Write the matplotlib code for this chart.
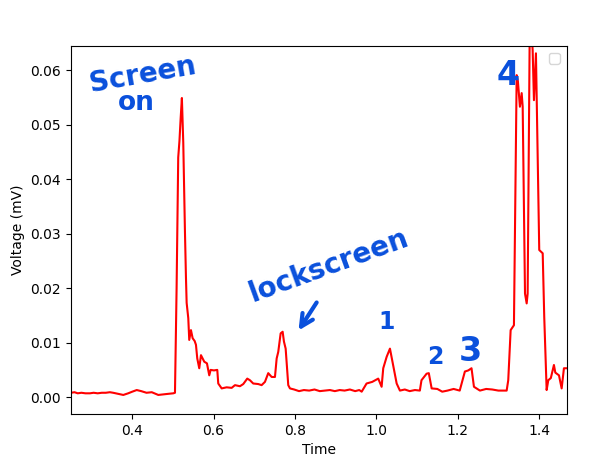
import matplotlib
matplotlib.use("Agg")
import matplotlib.pyplot as plt

# voltage trace (time, mV)
time = [
    0.249, 0.258, 0.266, 0.275, 0.285, 0.296, 0.305, 0.315, 0.325, 0.335,
    0.345, 0.353, 0.365, 0.378, 0.390, 0.400, 0.411, 0.422, 0.435, 0.448,
    0.458, 0.464, 0.475, 0.488, 0.501, 0.505,
    0.509, 0.513, 0.516, 0.519, 0.522, 0.5254, 0.5271, 0.5295, 0.532, 0.5337,
    0.5377, 0.5401, 0.5443, 0.5485, 0.5534, 0.5566, 0.5598, 0.5647, 0.5689, 0.577,
    0.5836, 0.5893, 0.5927, 0.6008, 0.609, 0.6114, 0.6198, 0.632, 0.6444, 0.6525,
    0.6647, 0.6729, 0.6827, 0.6893, 0.6974, 0.7097, 0.718, 0.7262, 0.7343, 0.7427,
    0.7508, 0.755, 0.7589, 0.7648, 0.7697, 0.7729, 0.7771, 0.7835, 0.7877,
    0.798, 0.810, 0.822, 0.835, 0.848, 0.861, 0.874, 0.886, 0.898, 0.910,
    0.922, 0.935, 0.948, 0.958, 0.964, 0.976, 0.990, 1.0047, 1.013, 1.017,
    1.0254, 1.0335, 1.041, 1.050, 1.058, 1.070, 1.082, 1.095, 1.107, 1.111,
    1.1236, 1.129, 1.136, 1.150, 1.162, 1.175, 1.190, 1.205, 1.2177, 1.226,
    1.234, 1.240, 1.2547, 1.270, 1.285, 1.300, 1.3204, 1.3243, 1.3302, 1.3383,
    1.345, 1.348, 1.353, 1.3573, 1.3598, 1.3655, 1.3696, 1.372, 1.3776, 1.3843,
    1.3875, 1.3924, 1.4005, 1.409, 1.4128, 1.4187, 1.4227, 1.429, 1.4366, 1.440,
    1.449, 1.4556, 1.4612, 1.4686,
]
voltage = [
    0.0008, 0.0009, 0.0007, 0.0008, 0.0007, 0.0007, 0.0008, 0.0007, 0.0008, 0.0008,
    0.0009, 0.0008, 0.0006, 0.0004, 0.0007, 0.0010, 0.0013, 0.0011, 0.0008, 0.0009,
    0.0006, 0.0004, 0.0005, 0.0006, 0.0007, 0.0008,
    0.0200, 0.0440, 0.0470, 0.0512, 0.0549, 0.0467, 0.0400, 0.0305, 0.0220, 0.0173,
    0.0145, 0.0105, 0.0123, 0.0108, 0.0103, 0.0096, 0.0071, 0.0053, 0.0077, 0.0065,
    0.0062, 0.0040, 0.0050, 0.0049, 0.0050, 0.0025, 0.0016, 0.0018, 0.0017, 0.0022,
    0.0020, 0.0024, 0.0034, 0.0031, 0.0025, 0.0024, 0.0022, 0.0028, 0.0044, 0.0037,
    0.0037, 0.0071, 0.0083, 0.0117, 0.0120, 0.0102, 0.0089, 0.0022, 0.0016,
    0.0014, 0.0011, 0.0013, 0.0012, 0.0014, 0.0011, 0.0012, 0.0013, 0.0011, 0.0013,
    0.0012, 0.0014, 0.0011, 0.0013, 0.0010, 0.0025, 0.0028, 0.0034, 0.0019, 0.0053,
    0.0074, 0.0089, 0.0060, 0.0025, 0.0012, 0.0014, 0.0011, 0.0013, 0.0012, 0.0031,
    0.0043, 0.0044, 0.0016, 0.0015, 0.0010, 0.0012, 0.0015, 0.0012, 0.0047, 0.0049,
    0.0053, 0.0019, 0.0012, 0.0015, 0.0014, 0.0012, 0.0012, 0.0031, 0.0123, 0.0132,
    0.0591, 0.0580, 0.0533, 0.0558, 0.0533, 0.0190, 0.0172, 0.0190, 0.0720, 0.0637,
    0.0545, 0.0631, 0.0270, 0.0264, 0.0147, 0.0013, 0.0031, 0.0035, 0.0059, 0.0045,
    0.0040, 0.0016, 0.0053, 0.0053,
]

ink = "#0a50dc"

fig = plt.figure(figsize=(6.03, 4.63), dpi=100)
ax = fig.add_axes([0.1172, 0.1058, 0.8226, 0.7955])

ax.plot(time, voltage, color="red")
ax.set_xlim(0.2486, 1.468)
ax.set_ylim(-0.0031, 0.0645)
ax.set_xlabel("Time")
ax.set_ylabel("Voltage (mV)")
ax.legend(loc="upper right")

# hand-drawn notes
ax.text(0.4266, 0.0591, "Screen", color=ink, fontsize=20, fontweight="bold",
        rotation=10, ha="center", va="center")
ax.text(0.409, 0.0540, "on", color=ink, fontsize=19, fontweight="bold",
        ha="center", va="center")
ax.text(0.882, 0.0242, "lockscreen", color=ink, fontsize=20, fontweight="bold",
        rotation=20, ha="center", va="center")
ax.annotate("", xy=(0.805, 0.0118), xytext=(0.857, 0.0178),
            arrowprops=dict(arrowstyle="->", color=ink, lw=3,
                            mutation_scale=22))
ax.text(1.024, 0.0138, "1", color=ink, fontsize=17, fontweight="bold",
        ha="center", va="center")
ax.text(1.144, 0.0073, "2", color=ink, fontsize=17, fontweight="bold",
        ha="center", va="center")
ax.text(1.230, 0.0083, "3", color=ink, fontsize=24, fontweight="bold",
        ha="center", va="center")
ax.text(1.323, 0.0590, "4", color=ink, fontsize=24, fontweight="bold",
        ha="center", va="center")

fig.savefig("out.png", dpi=100)
